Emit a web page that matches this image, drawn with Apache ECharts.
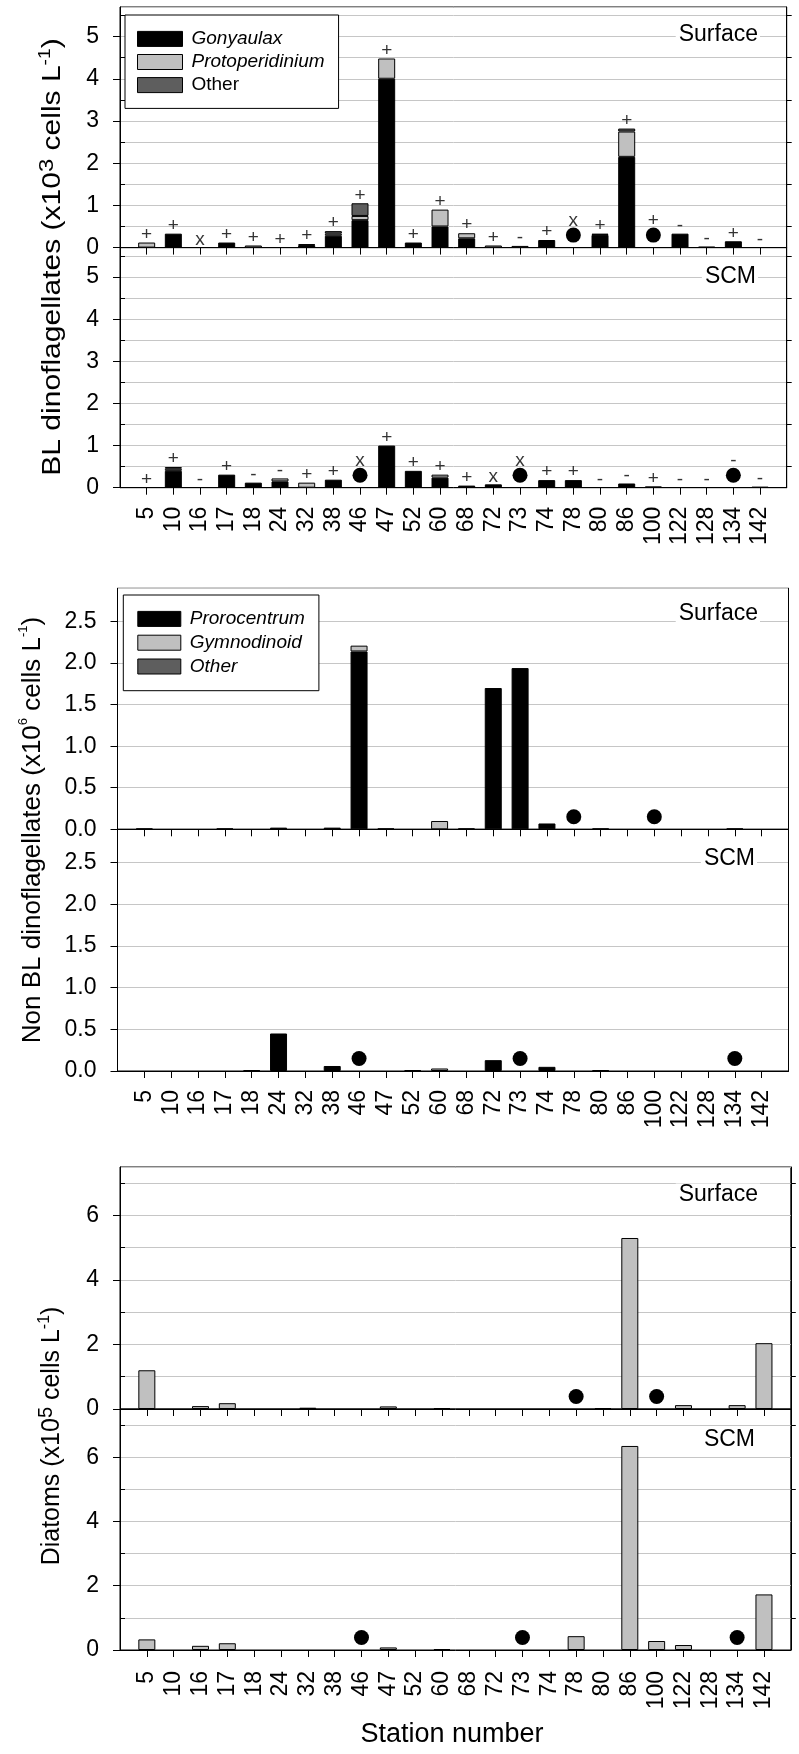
<!DOCTYPE html>
<html><head><meta charset="utf-8">
<script src="https://cdn.jsdelivr.net/npm/echarts@6/dist/echarts.min.js"></script>
<style>html,body{margin:0;padding:0;background:#fff}#c{width:799px;height:1754px}</style>
</head><body><div id="c"></div>
<script>
// ---------------- DATA ----------------
const stations = ['5','10','16','17','18','24','32','38','46','47','52','60','68','72','73','74','78','80','86','100','122','128','134','142'];

// BL dinoflagellates (x10^3 cells L-1) - Surface
const blSurfGonyaulax       = [0, 0.33, 0, 0.12, 0, 0, 0.06, 0.28, 0.65, 4.00, 0.12, 0.50, 0.22, 0, 0, 0.18, 0, 0.30, 2.15, 0, 0.33, 0.02, 0.15, 0];
const blSurfProtoperidinium = [0.12, 0, 0, 0, 0.05, 0, 0.02, 0.05, 0.10, 0.48, 0, 0.40, 0.12, 0.05, 0.04, 0, 0, 0.03, 0.60, 0, 0, 0, 0, 0];
const blSurfOther           = [0, 0, 0, 0, 0, 0, 0, 0.06, 0.30, 0, 0, 0, 0, 0, 0, 0, 0, 0, 0.07, 0, 0, 0, 0, 0];
const blSurfMarks           = ['+','+','x','+','+','+','+','+','+','+','+','+','+','+','-','+','x','+','+','+','-','-','+','-'];
const blSurfDots            = ['78','100'];
// BL dinoflagellates - SCM
const blScmGonyaulax        = [0, 0.40, 0, 0.31, 0.12, 0.15, 0, 0.19, 0, 1.00, 0.40, 0.24, 0.05, 0.08, 0, 0.18, 0.18, 0, 0.10, 0.03, 0, 0, 0, 0.02];
const blScmProtoperidinium  = [0, 0.05, 0, 0, 0, 0.07, 0.12, 0, 0, 0, 0, 0.07, 0, 0, 0, 0, 0, 0, 0, 0, 0, 0, 0, 0];
const blScmOther            = [0, 0.04, 0, 0, 0, 0, 0, 0, 0, 0, 0, 0, 0, 0, 0, 0, 0, 0, 0, 0, 0, 0, 0, 0];
const blScmMarks            = ['+','+','-','+','-','-','+','+','x','+','+','+','+','x','x','+','+','-','-','+','-','-','-','-'];
const blScmDots             = ['46','73','134'];

// Non BL dinoflagellates (x10^6 cells L-1) - Surface
const nblSurfProrocentrum   = [0.01, 0, 0, 0.01, 0, 0.02, 0, 0.02, 2.14, 0.01, 0, 0, 0.01, 1.70, 1.94, 0.07, 0, 0.01, 0, 0, 0, 0, 0.01, 0];
const nblSurfGymnodinoid    = [0, 0, 0, 0, 0, 0, 0, 0, 0.07, 0, 0, 0.10, 0, 0, 0, 0, 0, 0, 0, 0, 0, 0, 0, 0];
const nblSurfOther          = [0, 0, 0, 0, 0, 0, 0, 0, 0, 0, 0, 0, 0, 0, 0, 0, 0, 0, 0, 0, 0, 0, 0, 0];
const nblSurfDots           = ['78','100'];
// Non BL dinoflagellates - SCM
const nblScmProrocentrum    = [0, 0, 0, 0, 0.01, 0.45, 0, 0.06, 0, 0, 0.01, 0, 0, 0.13, 0, 0.05, 0, 0.01, 0, 0, 0, 0, 0, 0];
const nblScmGymnodinoid     = [0, 0, 0, 0, 0, 0, 0, 0, 0, 0, 0, 0.03, 0, 0, 0, 0, 0, 0, 0, 0, 0, 0, 0, 0];
const nblScmOther           = [0, 0, 0, 0, 0, 0, 0, 0, 0, 0, 0, 0, 0, 0, 0, 0, 0, 0, 0, 0, 0, 0, 0, 0];
const nblScmDots            = ['46','73','134'];

// Diatoms (x10^5 cells L-1)
const diaSurf               = [1.20, 0, 0.09, 0.18, 0, 0, 0.04, 0, 0, 0.08, 0, 0.03, 0, 0, 0, 0, 0, 0.03, 5.30, 0, 0.12, 0, 0.12, 2.04];
const diaSurfDots           = ['78','100'];
const diaScm                = [0.33, 0, 0.13, 0.21, 0, 0, 0, 0, 0, 0.08, 0, 0.03, 0, 0, 0, 0, 0.43, 0, 6.35, 0.28, 0.155, 0, 0, 1.73];
const diaScmDots            = ['46','73','134'];

const blTicks   = [0, 1, 2, 3, 4, 5];
const blMinor   = [0.5, 1.5, 2.5, 3.5, 4.5, 5.5];
const nblTicks  = [0, 0.5, 1.0, 1.5, 2.0, 2.5];
const diaTicks  = [0, 2, 4, 6];
const diaMinor  = [1, 3, 5, 7];

// ---------------- LAYOUT / STYLE ----------------
const F = '"Liberation Sans", Arial, Helvetica, sans-serif';
const BLACK = '#000000', LIGHT = '#c0c0c0', DARK = '#5e5e5e';
const axisCats = [''].concat(stations, ['']);
const pad = a => ['-'].concat(a.map(v => v === 0 ? '-' : v), ['-']);

const panels = [
  {left:120,   right:12.3, top:7,     height:240.6, max:5.7, ticks:blTicks,  minor:blMinor,  grid:0.5, showX:false, dec:0},
  {left:120,   right:12.3, top:247.6, height:240.1, max:5.7, ticks:blTicks,  minor:blMinor,  grid:0.5, showX:true,  dec:0, xMargin:19},
  {left:117.5, right:10.5, top:588.3, height:241,   max:2.9, ticks:nblTicks, minor:null,     grid:0.5, showX:false, dec:1},
  {left:117.5, right:10.5, top:829.3, height:241.7, max:2.9, ticks:nblTicks, minor:null,     grid:0.5, showX:true,  dec:1, xMargin:19},
  {left:120,   right:8.2,  top:1167,  height:242,   max:7.5, ticks:diaTicks, minor:diaMinor, grid:1,   showX:false, dec:0},
  {left:120,   right:8.2,  top:1409,  height:241,   max:7.5, ticks:diaTicks, minor:diaMinor, grid:1,   showX:true,  dec:0, xMargin:21}
];

const grids = [], xAxes = [], yAxes = [], series = [];
const mainY = [];
panels.forEach((p, i) => {
  grids.push({left:p.left, right:p.right, top:p.top, height:p.height, show:true, borderColor:BLACK, borderWidth:1, containLabel:false});
  xAxes.push({
    type:'category', gridIndex:i, data:axisCats, boundaryGap:false,
    axisLine:{show:true, onZero:false, lineStyle:{color:BLACK, width:1}},
    axisTick:{show:true, length:7, interval:(idx) => idx > 0 && idx < axisCats.length - 1, lineStyle:{color:BLACK, width:1}},
    axisLabel:{show:p.showX, interval:0, rotate:90, fontSize:23, fontFamily:F, color:BLACK, margin:p.xMargin || 19},
    splitLine:{show:false}
  });
  yAxes.push({type:'value', gridIndex:i, min:0, max:p.max, interval:p.grid, position:'left',
    axisLine:{show:false}, axisTick:{show:false}, axisLabel:{show:false},
    splitLine:{show:true, lineStyle:{color:'#c6c6c6', width:1}}});
  mainY.push(yAxes.length);
  yAxes.push({type:'value', gridIndex:i, min:0, max:p.max, position:'left',
    axisLine:{show:true, onZero:false, lineStyle:{color:BLACK, width:1}},
    axisTick:{show:true, length:7, customValues:p.ticks, lineStyle:{color:BLACK}},
    axisLabel:{show:true, customValues:p.ticks, fontSize:23, fontFamily:F, color:BLACK, margin:21,
      formatter:v => v.toFixed(p.dec)},
    splitLine:{show:false}});
  if (p.minor) {
    yAxes.push({type:'value', gridIndex:i, min:0, max:p.max, position:'left',
      axisLine:{show:false}, axisTick:{show:true, inside:true, length:5, customValues:p.minor, lineStyle:{color:BLACK}},
      axisLabel:{show:false}, splitLine:{show:false}});
  }
  yAxes.push({type:'value', gridIndex:i, min:0, max:p.max, position:'right',
    axisLine:{show:true, onZero:false, lineStyle:{color:BLACK, width:1}},
    axisTick:{show:!!p.minor, length:5, customValues:p.minor || [], lineStyle:{color:BLACK}},
    axisLabel:{show:false}, splitLine:{show:false}});
});

function bar(gi, name, vals, color) {
  series.push({type:'bar', name:name, xAxisIndex:gi, yAxisIndex:mainY[gi], stack:'st' + gi, barWidth:17,
    data:pad(vals), itemStyle:{color:color, borderColor:BLACK, borderWidth:1}, silent:true, z:3});
}
function dots(gi, list) {
  series.push({type:'scatter', xAxisIndex:gi, yAxisIndex:mainY[gi], symbol:'circle', symbolSize:15,
    symbolOffset:[0, -12.5], itemStyle:{color:BLACK, opacity:1}, silent:true, z:4,
    data:list.map(s => [stations.indexOf(s) + 1, 0])});
}
function marks(gi, arrs, mk, dotList) {
  const data = stations.map((s, k) => {
    const tot = arrs.reduce((a, arr) => a + arr[k], 0);
    const hasDot = dotList.indexOf(s) >= 0;
    return {value:[k + 1, tot], mark:mk[k], label:{offset:[0, hasDot ? -27 : -8]}};
  });
  series.push({type:'scatter', xAxisIndex:gi, yAxisIndex:mainY[gi], symbol:'rect', symbolSize:1,
    itemStyle:{color:'rgba(0,0,0,0)'}, silent:true, z:5,
    label:{show:true, position:'inside', formatter:q => q.data.mark, fontSize:19, fontFamily:F, color:BLACK},
    data:data});
}

bar(0, 'Gonyaulax', blSurfGonyaulax, BLACK);
bar(0, 'Protoperidinium', blSurfProtoperidinium, LIGHT);
bar(0, 'Other', blSurfOther, DARK);
dots(0, blSurfDots);
marks(0, [blSurfGonyaulax, blSurfProtoperidinium, blSurfOther], blSurfMarks, blSurfDots);
bar(1, 'Gonyaulax', blScmGonyaulax, BLACK);
bar(1, 'Protoperidinium', blScmProtoperidinium, LIGHT);
bar(1, 'Other', blScmOther, DARK);
dots(1, blScmDots);
marks(1, [blScmGonyaulax, blScmProtoperidinium, blScmOther], blScmMarks, blScmDots);
bar(2, 'Prorocentrum', nblSurfProrocentrum, BLACK);
bar(2, 'Gymnodinoid', nblSurfGymnodinoid, LIGHT);
bar(2, 'Other', nblSurfOther, DARK);
dots(2, nblSurfDots);
bar(3, 'Prorocentrum', nblScmProrocentrum, BLACK);
bar(3, 'Gymnodinoid', nblScmGymnodinoid, LIGHT);
bar(3, 'Other', nblScmOther, DARK);
dots(3, nblScmDots);
bar(4, 'Diatoms', diaSurf, LIGHT);
dots(4, diaSurfDots);
bar(5, 'Diatoms', diaScm, LIGHT);
dots(5, diaScmDots);

const legendBase = {
  orient:'vertical', itemWidth:45, itemHeight:15, selectedMode:false, backgroundColor:'#fff',
  borderColor:BLACK, borderWidth:1, icon:'rect',
  itemStyle:{borderColor:BLACK, borderWidth:1},
  textStyle:{fontSize:19, fontFamily:F, color:BLACK, padding:[0,0,0,4]}
};
const legends = [
  Object.assign({}, legendBase, {left:125, top:15, itemGap:4.1, padding:[14.4,14,13.8,12],
    data:[{name:'Gonyaulax', textStyle:{fontStyle:'italic'}}, {name:'Protoperidinium', textStyle:{fontStyle:'italic'}}, {name:'Other'}]}),
  Object.assign({}, legendBase, {left:123.3, top:595, itemWidth:43, itemGap:4.8, padding:[14.4,14,14.7,14],
    data:[{name:'Prorocentrum', textStyle:{fontStyle:'italic'}}, {name:'Gymnodinoid', textStyle:{fontStyle:'italic'}}, {name:'Other', textStyle:{fontStyle:'italic'}}]})
];

function ytitle(x, y, parts, scale) {
  return {type:'text', x:x, y:y, rotation:Math.PI / 2, scaleX:scale || 1, z:10, silent:true,
    style:{text:parts.text, rich:parts.rich, align:'center', verticalAlign:'middle', fill:BLACK}};
}
function richTitle(main, sup1, rest, sup2, end, fs, s1, s2) {
  return {
    text:'{a|' + main + '}{b|' + sup1 + '}{a|' + rest + '}{c|' + sup2 + '}{a|' + end + '}',
    rich:{a:{fontSize:fs, fontFamily:F, lineHeight:fs + 6, fill:BLACK},
          b:{fontSize:s1, fontFamily:F, lineHeight:s1, verticalAlign:'top', fill:BLACK},
          c:{fontSize:s2, fontFamily:F, lineHeight:s2, verticalAlign:'top', fill:BLACK}}
  };
}
function tag(x, y, t) {
  return {type:'text', x:x, y:y, z:10, silent:true,
    style:{text:t, fontSize:23, fontFamily:F, fill:BLACK, align:'right', verticalAlign:'middle', backgroundColor:'#fff', padding:[0,2,0,3]}};
}

const graphic = [
  ytitle(53, 257, richTitle('BL dinoflagellates (x10', '3', ' cells L', '-1', ')', 25, 20, 16), 1.2),
  ytitle(33, 830, richTitle('Non BL dinoflagellates (x10', '6', ' cells L', '-1', ')', 26, 13, 13), 1),
  ytitle(52, 1436, richTitle('Diatoms (x10', '5', ' cells L', '-1', ')', 25, 20, 16), 1),
  tag(760, 35, 'Surface'), tag(758, 277, 'SCM'),
  tag(760, 614, 'Surface'), tag(757, 859, 'SCM'),
  tag(760, 1195, 'Surface'), tag(757, 1440, 'SCM'),
  {type:'text', x:452, y:1735, z:10, silent:true,
    style:{text:'Station number', fontSize:27, fontFamily:F, fill:BLACK, align:'center', verticalAlign:'middle'}}
];

const chart = echarts.init(document.getElementById('c'), null, {renderer:'canvas'});
chart.setOption({
  animation:false, backgroundColor:'#fff',
  grid:grids, xAxis:xAxes, yAxis:yAxes, series:series, legend:legends, graphic:graphic
});
</script></body></html>
